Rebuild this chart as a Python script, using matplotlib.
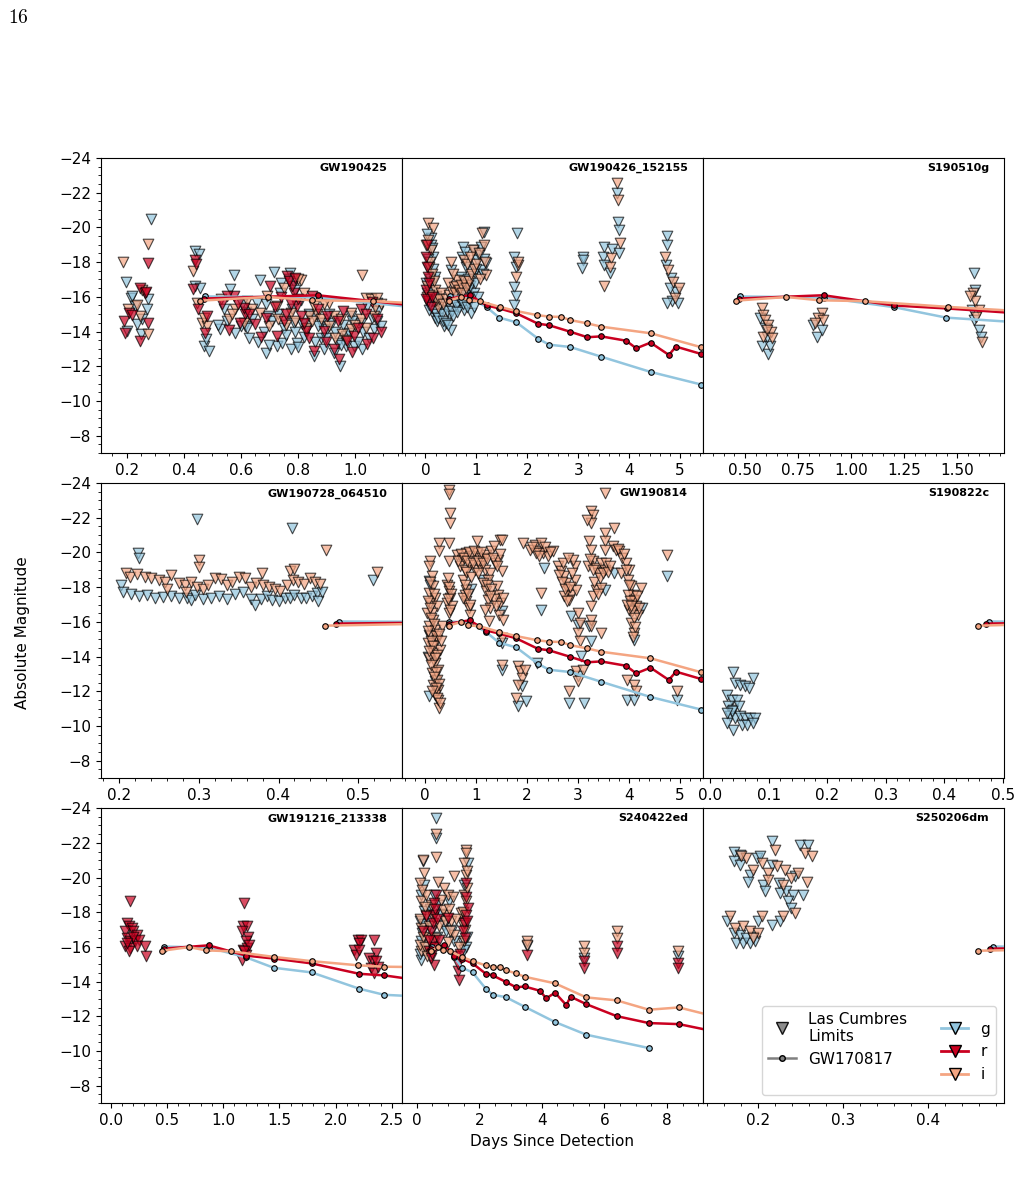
import matplotlib.pyplot as plt
from matplotlib.lines import Line2D
from matplotlib.ticker import MultipleLocator, AutoMinorLocator

plt.rcParams['font.family'] = ['DejaVu Sans']
plt.rcParams['font.size'] = 11
plt.rcParams['mathtext.fontset'] = 'cm'

band_colors = {'g': '#92c5de', 'r': '#ca0020', 'i': '#f4a582'}

# GW170817 reference light curves (days, absolute mag)
kn_g_t = [0.476, 0.874, 1.203, 1.448, 1.786, 2.21, 2.43, 2.84, 3.45, 4.42, 5.42, 7.42]
kn_g_mag = [-16.02, -15.96, -15.40, -14.80, -14.53, -13.59, -13.24, -13.11, -12.55, -11.67, -10.94, -10.17]
kn_r_t = [0.472, 0.87, 1.203, 1.45, 1.786, 2.21, 2.43, 2.84, 3.18, 3.45, 3.94, 4.14, 4.42,
          4.78, 4.92, 5.42, 6.39, 7.42, 8.38, 10.4]
kn_r_mag = [-15.9, -16.09, -15.5, -15.33, -15.05, -14.45, -14.36, -13.99, -13.67, -13.72, -13.47,
            -13.03, -13.36, -12.65, -13.13, -12.70, -12.01, -11.61, -11.55, -10.8]
kn_i_t = [0.458, 0.695, 0.849, 1.065, 1.456, 1.786, 2.20, 2.43, 2.67, 2.84, 3.18, 3.45, 4.42,
          5.42, 6.39, 7.42, 8.38, 10.4]
kn_i_mag = [-15.78, -15.99, -15.8, -15.75, -15.42, -15.18, -14.94, -14.86, -14.84, -14.66, -14.47,
            -14.28, -13.9, -13.09, -12.92, -12.38, -12.51, -11.6]

# Las Cumbres limits, (days, mag) per event and band
gw190425_g = [(0.284, -20.47), (0.196, -16.86), (0.214, -15.95), (0.229, -15.47), (0.274, -15.86),
              (0.273, -15.28), (0.253, -14.7), (0.2, -14.03), (0.25, -13.84), (0.237, -14.41),
              (0.218, -16.05), (0.438, -18.65), (0.452, -18.45), (0.44, -16.63), (0.458, -16.53),
              (0.47, -13.16), (0.487, -12.87), (0.478, -13.55), (0.528, -14.12), (0.563, -16.43),
              (0.575, -17.26), (0.604, -15.57), (0.616, -14.32), (0.669, -16.99), (0.687, -12.78),
              (0.716, -17.43), (0.728, -13.16), (0.745, -13.35), (0.772, -17.36), (0.775, -12.97),
              (0.786, -16.82), (0.798, -13.35), (0.815, -14.41), (0.833, -14.12), (0.857, -12.58),
              (0.88, -13.64), (0.903, -14.12), (0.927, -12.78), (0.948, -12.0), (0.968, -13.74),
              (0.985, -14.9), (0.997, -13.16), (1.026, -12.97), (1.044, -15.47), (1.068, -14.12),
              (1.079, -15.66), (0.739, -16.24), (0.696, -14.89), (0.64, -14.7), (0.54, -15.28),
              (0.657, -15.66), (0.857, -14.9), (0.921, -14.51), (1.02, -14.51), (1.079, -14.6),
              (0.622, -14.2), (0.786, -14.5), (0.88, -14.5), (0.939, -13.35), (0.968, -13.16),
              (0.52, -14.4), (0.55, -14.6), (0.58, -13.9), (0.60, -14.3), (0.63, -13.6),
              (0.66, -13.4), (0.68, -14.0), (0.70, -13.2), (0.71, -14.6), (0.73, -15.0),
              (0.75, -14.2), (0.76, -13.8), (0.78, -15.3), (0.79, -14.0), (0.80, -13.1),
              (0.82, -13.7), (0.84, -15.0), (0.86, -13.4), (0.87, -14.3), (0.89, -13.0),
              (0.90, -13.6), (0.91, -15.0), (0.93, -14.0), (0.95, -13.2), (0.96, -14.4),
              (0.98, -13.9), (0.99, -14.6), (1.01, -13.4), (1.03, -14.0), (1.05, -13.6),
              (1.06, -14.8), (1.08, -15.2), (1.09, -14.3), (0.74, -16.8), (0.77, -17.0),
              (0.79, -16.4), (0.81, -15.8), (0.69, -15.6), (0.62, -15.1)]
gw190425_r = [(0.276, -17.97), (0.247, -16.53), (0.264, -16.24), (0.192, -14.6), (0.194, -13.93),
              (0.208, -15.09), (0.217, -14.95), (0.247, -13.45), (0.276, -14.5), (0.268, -16.3),
              (0.44, -18.11), (0.444, -17.88), (0.449, -15.28), (0.476, -13.93), (0.481, -14.9),
              (0.434, -16.43), (0.575, -16.05), (0.616, -14.99), (0.651, -14.41), (0.704, -16.63),
              (0.728, -13.74), (0.751, -14.6), (0.763, -17.2), (0.786, -16.24), (0.798, -15.47),
              (0.81, -14.9), (0.827, -14.03), (0.857, -12.87), (0.892, -14.03), (0.927, -12.97),
              (0.944, -12.39), (0.974, -13.45), (0.997, -13.74), (1.02, -15.28), (1.044, -13.26),
              (1.062, -13.64), (1.079, -14.7), (0.534, -15.57), (0.552, -16.05), (0.61, -15.37),
              (0.599, -14.51), (0.775, -15.57), (0.851, -16.05), (0.903, -14.9),
              (0.56, -14.1), (0.59, -15.6), (0.63, -15.0), (0.67, -13.7), (0.69, -14.8),
              (0.72, -15.4), (0.74, -16.0), (0.76, -15.0), (0.78, -16.6), (0.80, -15.9),
              (0.82, -14.5), (0.84, -13.6), (0.87, -15.3), (0.90, -13.4), (0.94, -14.6),
              (0.96, -15.2), (0.99, -12.8), (1.01, -14.2), (1.04, -15.0), (1.06, -15.7),
              (1.09, -14.0), (0.77, -16.9), (0.79, -17.1)]
gw190425_i = [(0.188, -18.0), (0.276, -19.07), (0.276, -13.84), (0.247, -14.9), (0.206, -15.28),
              (0.253, -16.4), (0.235, -15.5), (0.432, -17.49), (0.446, -15.66), (0.464, -14.51),
              (0.481, -14.32), (0.472, -14.8), (0.558, -14.7), (0.581, -15.28), (0.669, -15.09),
              (0.692, -16.05), (0.775, -15.09), (0.81, -16.99), (0.839, -14.9), (0.868, -14.99),
              (0.909, -15.66), (0.927, -14.9), (0.956, -13.83), (0.985, -14.12), (1.026, -17.24),
              (1.038, -15.95), (1.056, -15.86), (1.079, -15.95), (0.985, -15.09), (0.857, -15.47),
              (0.728, -15.47), (0.622, -15.76), (0.892, -15.57), (1.068, -14.89),
              (0.53, -15.9), (0.57, -15.0), (0.61, -14.5), (0.64, -15.3), (0.70, -14.3),
              (0.73, -14.7), (0.76, -14.4), (0.79, -14.6), (0.83, -14.2), (0.85, -14.6),
              (0.88, -14.7), (0.91, -14.3), (0.93, -13.6), (0.95, -14.7), (0.97, -13.5),
              (1.00, -14.4), (1.02, -14.7), (1.04, -14.2), (1.07, -15.4), (1.09, -15.6),
              (0.75, -16.5), (0.80, -17.0), (0.82, -16.2)]

gw190426_g = [(0.11, -19.37), (0.14, -18.32), (0.05, -17.65), (0.18, -17.17), (0.08, -16.59),
              (0.14, -15.63), (0.18, -14.77), (0.37, -14.29), (0.5, -14.1), (0.31, -15.25),
              (0.44, -15.63), (0.47, -14.96), (0.57, -15.73), (0.66, -15.44), (0.73, -18.89),
              (0.76, -15.25), (0.83, -15.63), (0.89, -15.06), (0.96, -18.7), (1.02, -18.13),
              (1.15, -19.76), (1.19, -17.94), (0.86, -16.4), (0.7, -17.17), (0.96, -16.2),
              (0.21, -16.02), (0.08, -15.25), (0.5, -17.55), (0.8, -17.74), (1.09, -17.55),
              (0.02, -16.8), (0.04, -16.2), (0.06, -15.8), (0.09, -17.0), (0.12, -16.3),
              (0.15, -17.6), (0.16, -15.2), (0.2, -15.0), (0.22, -14.6), (0.25, -14.8),
              (0.28, -15.6), (0.33, -15.0), (0.35, -14.6), (0.4, -14.5), (0.42, -15.2),
              (0.45, -14.4), (0.53, -15.2), (0.55, -14.9), (0.6, -15.5), (0.62, -15.1),
              (0.64, -16.0), (0.68, -15.8), (0.71, -16.5), (0.74, -15.6), (0.78, -16.1),
              (0.81, -15.4), (0.85, -15.9), (0.88, -16.6), (0.91, -16.0), (0.93, -17.2),
              (0.95, -15.4), (0.98, -16.8), (1.0, -17.6), (1.03, -16.0), (1.06, -18.4),
              (1.1, -18.9), (1.13, -17.3), (1.16, -18.2), (0.72, -18.3), (0.78, -18.6),
              (0.84, -17.0), (0.1, -19.0), (0.06, -18.2), (0.13, -18.8), (0.03, -19.6),
              (0.1, -16.0), (0.07, -15.5), (0.16, -16.0),
              (1.79, -19.7), (1.74, -18.32), (1.77, -17.74), (1.74, -16.59), (1.77, -16.02),
              (1.74, -15.54), (3.09, -18.32), (3.09, -18.1), (3.08, -17.65), (3.76, -21.97),
              (3.79, -20.33), (3.81, -19.85), (3.51, -18.86), (3.67, -18.74), (3.49, -18.32),
              (3.5, -17.84), (3.63, -17.36), (3.81, -18.51), (4.74, -19.51), (4.74, -18.99),
              (4.73, -17.84), (4.82, -17.07), (4.93, -16.3), (4.84, -15.73), (4.74, -15.63),
              (4.95, -15.63), (4.8, -16.5)]
gw190426_r = [(0.01, -18.32), (0.03, -17.74), (0.01, -16.4), (0.05, -15.73), (0.06, -17.17),
              (0.1, -15.44), (0.04, -19.0), (0.02, -15.9), (0.08, -16.8), (0.12, -16.0)]
gw190426_i = [(0.05, -20.28), (0.14, -19.95), (0.11, -18.7), (0.08, -17.74), (0.18, -16.4),
              (0.03, -16.0), (0.24, -15.44), (0.31, -16.2), (0.5, -18.03), (0.44, -16.78),
              (0.63, -16.97), (0.76, -18.13), (0.93, -18.7), (1.12, -19.66), (1.15, -18.99),
              (1.19, -17.26), (0.57, -16.59), (0.83, -16.69),
              (0.02, -19.0), (0.06, -19.3), (0.09, -18.0), (0.12, -17.3), (0.16, -16.9),
              (0.04, -16.6), (0.07, -16.1), (0.2, -15.8), (0.26, -15.9), (0.35, -15.6),
              (0.4, -15.9), (0.46, -16.1), (0.52, -16.3), (0.58, -16.2), (0.6, -16.6),
              (0.65, -16.4), (0.69, -16.7), (0.72, -16.2), (0.75, -16.9), (0.79, -16.5),
              (0.86, -16.9), (0.9, -17.3), (0.95, -17.6), (1.0, -17.9), (1.05, -18.5),
              (1.08, -17.0), (1.17, -18.0), (0.55, -17.3), (0.82, -17.9), (0.88, -18.3),
              (1.81, -17.84), (1.77, -17.17),
              (1.81, -18.03), (3.76, -22.54), (3.79, -21.58), (3.82, -19.09), (3.64, -18.22),
              (3.62, -17.74), (3.51, -16.63), (4.71, -18.32), (4.77, -17.55), (4.87, -16.88),
              (4.9, -15.92), (4.97, -16.5)]

s190510g_g = [(0.571, -14.77), (0.594, -14.19), (0.579, -13.14), (0.61, -12.71), (0.618, -13.14),
              (0.602, -13.71), (0.822, -14.38), (0.838, -13.71), (0.862, -14.1), (1.58, -17.36),
              (1.585, -16.4), (1.569, -15.25), (1.577, -14.67), (1.6, -14.1), (1.611, -13.71)]
s190510g_i = [(0.579, -15.34), (0.583, -14.96), (0.594, -14.67), (0.61, -14.38), (0.621, -14.0),
              (0.586, -13.71), (0.602, -14.1), (0.626, -13.62), (0.862, -15.06), (0.846, -14.77),
              (0.869, -14.67), (0.83, -14.48), (1.574, -16.21), (1.585, -15.73), (1.6, -15.25),
              (1.59, -14.86), (1.616, -13.42), (1.561, -16.02)]

gw190728_g = [(0.202, -18.14), (0.205, -17.7), (0.215, -17.6), (0.2235, -19.97), (0.225, -19.68),
              (0.225, -17.5), (0.235, -17.55), (0.245, -17.4), (0.255, -17.45), (0.265, -17.5),
              (0.275, -17.35), (0.285, -17.4), (0.29, -17.25), (0.2975, -21.93), (0.295, -17.55),
              (0.305, -17.3), (0.315, -17.4), (0.325, -17.5), (0.335, -17.3), (0.345, -17.6),
              (0.355, -17.75), (0.365, -17.3), (0.37, -17.0), (0.378, -17.3), (0.385, -17.5),
              (0.392, -17.25), (0.4, -17.2), (0.408, -17.35), (0.415, -17.4), (0.417, -21.41),
              (0.42, -17.55), (0.428, -17.35), (0.435, -17.4), (0.442, -17.5), (0.448, -17.65),
              (0.45, -17.2), (0.455, -17.7), (0.519, -18.43)]
gw190728_i = [(0.208, -18.8), (0.213, -18.6), (0.222, -18.75), (0.232, -18.6), (0.24, -18.5),
              (0.25, -18.4), (0.258, -18.3), (0.265, -18.7), (0.275, -18.25), (0.282, -18.1),
              (0.29, -18.3), (0.298, -18.0), (0.2996, -19.58), (0.3, -19.14), (0.305, -17.9),
              (0.312, -18.1), (0.32, -18.5), (0.328, -18.45), (0.335, -18.1), (0.342, -18.3),
              (0.35, -18.6), (0.358, -18.5), (0.366, -18.0), (0.372, -18.25), (0.379, -18.81),
              (0.38, -18.1), (0.388, -18.0), (0.395, -17.9), (0.402, -17.8), (0.41, -18.1),
              (0.414, -18.91), (0.418, -18.4), (0.42, -19.04), (0.425, -18.3), (0.432, -18.2),
              (0.44, -18.5), (0.446, -18.3), (0.452, -18.2), (0.459, -20.12), (0.524, -18.85),
              (0.284, -17.7), (0.26, -17.9)]

gw190814_g = [(0.07, -18.33), (0.1, -18.14), (0.07, -15.26), (0.08, -11.75), (1.11, -18.43),
              (1.5, -16.6), (1.5, -14.78), (1.5, -13.24), (2.34, -19.1), (2.27, -16.7),
              (2.86, -16.32), (2.99, -15.84), (3.11, -11.32), (2.83, -11.32), (1.82, -11.13),
              (1.97, -11.42), (1.89, -12.28), (3.26, -14.88), (3.71, -18.81), (3.52, -17.85),
              (4.75, -18.62), (4.95, -11.51), (3.96, -11.51), (4.1, -11.51), (4.26, -16.8),
              (4.1, -14.97), (3.06, -14.01), (3.22, -15.74), (0.12, -16.9), (0.05, -14.0),
              (0.2, -12.6), (0.9, -17.9), (2.2, -13.6), (3.0, -12.9)]
gw190814_i = [(0.1, -19.49), (0.07, -19.2), (0.13, -18.62), (0.16, -18.05), (0.07, -17.66),
              (0.2, -17.37), (0.1, -17.08), (0.23, -16.89), (0.13, -16.51), (0.16, -16.12),
              (0.07, -15.74), (0.2, -15.55), (0.1, -15.16), (0.23, -14.97), (0.13, -14.59),
              (0.16, -14.2), (0.07, -13.92), (0.2, -13.63), (0.26, -13.24), (0.13, -13.05),
              (0.23, -12.67), (0.16, -12.38), (0.26, -12.09), (0.2, -11.8), (0.27, -11.03),
              (0.25, -11.51), (0.05, -14.78), (0.29, -14.4), (0.33, -15.74), (0.03, -16.51),
              (0.05, -17.2), (0.09, -16.8), (0.12, -16.2), (0.18, -15.9), (0.22, -15.2),
              (0.11, -14.9), (0.15, -14.6), (0.24, -14.1), (0.08, -14.3), (0.19, -13.9),
              (0.12, -13.5), (0.22, -13.1), (0.17, -12.8), (0.28, -12.4), (0.21, -12.2),
              (0.24, -11.6), (0.29, -11.3), (0.14, -12.0), (0.06, -15.5), (0.27, -15.3),
              (0.31, -14.9), (0.18, -17.6), (0.09, -18.3),
              (0.46, -23.62), (0.46, -23.39), (0.48, -22.27), (0.48, -21.7), (0.46, -20.54),
              (0.27, -20.54), (0.27, -20.06), (0.46, -19.49), (0.42, -18.14), (0.46, -17.76),
              (0.49, -17.37), (0.42, -17.08), (0.52, -16.89), (0.46, -16.51),
              (0.44, -18.5), (0.47, -18.0), (0.5, -17.6), (0.44, -17.3), (0.48, -16.7),
              (0.62, -19.87), (0.72, -19.58), (0.81, -19.97), (0.91, -19.77), (1.01, -20.64),
              (1.01, -19.97), (1.11, -19.68), (1.2, -19.87), (1.3, -20.06), (1.37, -19.39),
              (1.46, -20.73), (1.43, -19.58), (1.5, -18.91), (0.68, -19.2), (0.78, -19.0),
              (0.88, -19.29), (0.98, -19.0), (1.07, -19.2), (1.17, -19.0), (1.27, -18.81),
              (0.75, -18.43), (1.24, -18.43), (0.78, -17.56), (0.81, -17.18), (0.85, -16.8),
              (0.88, -16.41), (0.75, -17.37), (0.81, -17.85), (1.14, -18.24), (1.2, -17.76),
              (1.24, -17.28), (1.27, -16.8), (1.17, -16.7), (1.4, -18.05), (1.43, -17.56),
              (1.46, -17.08), (1.53, -17.37), (1.5, -15.07), (1.5, -13.53), (1.25, -16.03),
              (0.65, -19.5), (0.7, -19.9), (0.76, -19.7), (0.83, -19.5), (0.86, -20.0),
              (0.93, -19.4), (0.96, -20.1), (1.04, -19.5), (1.09, -20.0), (1.14, -19.4),
              (1.22, -19.6), (1.33, -19.7), (1.36, -20.4), (1.4, -19.2), (1.46, -19.9),
              (0.8, -18.9), (0.9, -18.6), (1.03, -18.8), (0.78, -18.1), (0.84, -17.6),
              (0.87, -17.0), (1.22, -18.1), (1.3, -17.9), (1.35, -17.3), (1.45, -16.4),
              (1.52, -16.1), (1.38, -16.9), (1.28, -17.5),
              (1.82, -13.44), (1.86, -13.15), (1.89, -12.76), (1.82, -12.38), (1.95, -13.24),
              (1.79, -11.61), (1.92, -20.54), (2.05, -20.16), (2.15, -20.45), (2.21, -20.06),
              (2.28, -20.54), (2.31, -19.97), (2.41, -19.77), (2.51, -20.06), (2.27, -17.66),
              (2.18, -19.97), (2.1, -20.3), (2.23, -19.8), (2.35, -20.3), (2.45, -20.0),
              (2.6, -19.2), (2.67, -18.91), (2.73, -18.62), (2.77, -18.24),
              (2.8, -17.85), (2.86, -17.56), (2.83, -17.28), (2.93, -19.2), (2.96, -17.85),
              (2.7, -19.39), (2.9, -19.58), (2.73, -17.47), (2.8, -19.68), (2.93, -18.43),
              (2.62, -18.7), (2.69, -18.3), (2.75, -17.9), (2.84, -18.0), (2.88, -18.8),
              (2.78, -17.2),
              (2.99, -16.51), (3.03, -15.93), (2.99, -15.36), (3.03, -14.88), (2.96, -13.15),
              (2.99, -12.57), (2.83, -12.0), (3.09, -13.24), (3.26, -22.37), (3.29, -22.18),
              (3.26, -21.7), (3.22, -20.64), (3.26, -20.16), (3.29, -19.49), (3.19, -19.2),
              (3.35, -19.1), (3.39, -18.81), (3.45, -19.39), (3.52, -19.0), (3.35, -17.85),
              (3.29, -17.47), (3.45, -17.95), (3.26, -16.89), (3.26, -16.12), (3.26, -15.74),
              (3.52, -21.12), (3.53, -20.64), (3.52, -20.16), (3.45, -15.36), (3.52, -23.42),
              (3.18, -21.9), (3.23, -19.6), (3.3, -19.0), (3.31, -18.3), (3.39, -17.6),
              (3.42, -18.5), (3.48, -18.8), (3.55, -19.4), (3.58, -18.9), (3.62, -19.2),
              (3.71, -21.41), (3.68, -20.35), (3.74, -20.16), (3.81, -20.06), (3.87, -19.68),
              (3.94, -19.39), (3.84, -18.81), (4.0, -19.0), (3.97, -18.43), (4.04, -18.05),
              (4.07, -17.56), (4.1, -17.18), (4.14, -16.89), (4.0, -16.7), (4.17, -16.41),
              (4.04, -15.93), (4.1, -15.36), (4.23, -17.95), (3.97, -17.56), (3.96, -12.67),
              (4.1, -12.38), (4.14, -12.0), (4.1, -17.28), (3.78, -20.2), (3.9, -19.9),
              (3.93, -19.0), (3.99, -18.1), (4.02, -17.2), (4.06, -16.6), (4.09, -16.2),
              (4.12, -15.7), (4.15, -17.5), (4.2, -16.8), (3.95, -17.0), (4.03, -16.9),
              (4.08, -15.1), (4.75, -19.87), (4.95, -12.0), (1.5, -20.73)]

s190822c_g = [(0.04, -13.09), (0.074, -12.76), (0.043, -12.47), (0.051, -12.38), (0.06, -12.28),
              (0.066, -12.19), (0.029, -11.8), (0.037, -11.51), (0.046, -11.51), (0.031, -11.13),
              (0.04, -10.94), (0.034, -10.55), (0.043, -10.46), (0.051, -10.55), (0.06, -10.46),
              (0.069, -10.46), (0.077, -10.46), (0.04, -9.79), (0.054, -10.07), (0.063, -10.07),
              (0.074, -10.17), (0.029, -10.17), (0.049, -11.13), (0.037, -10.84), (0.029, -10.75)]

gw191216_r = [(0.173, -18.62), (0.143, -17.37), (0.158, -17.18), (0.188, -17.08), (0.128, -16.89),
              (0.202, -16.89), (0.232, -16.7), (0.143, -16.51), (0.173, -16.32), (0.217, -16.32),
              (0.247, -16.41), (0.128, -16.03), (0.173, -15.93), (0.232, -16.03), (0.158, -15.74),
              (0.307, -16.03), (0.315, -15.45), (0.202, -16.6), (0.143, -16.2),
              (1.185, -18.53), (1.179, -17.18), (1.214, -17.18), (1.17, -16.89), (1.223, -16.6),
              (1.199, -16.32), (1.176, -15.84), (1.214, -15.93), (1.164, -15.26), (1.199, -15.55),
              (1.229, -16.12), (1.185, -15.74), (2.196, -16.41), (2.226, -16.41), (2.211, -16.22),
              (2.167, -15.84), (2.182, -15.55), (2.211, -15.84), (2.345, -16.41), (2.36, -15.64),
              (2.3, -15.36), (2.33, -15.16), (2.315, -14.78), (2.345, -14.49), (2.375, -14.87),
              (2.36, -15.16)]

s240422ed_g = [(0.62, -23.42), (0.62, -22.27), (0.19, -20.93), (0.24, -19.58), (0.14, -19.0),
               (0.24, -18.05), (0.14, -16.32), (0.14, -15.26), (1.63, -20.83), (1.52, -19.58),
               (1.04, -18.62), (0.88, -17.28), (1.47, -16.22), (0.56, -19.0), (0.72, -18.43),
               (1.2, -16.32), (0.1, -17.5), (0.18, -16.8), (0.22, -17.3), (0.3, -16.0),
               (0.12, -15.6), (0.36, -17.6), (0.43, -18.2), (0.5, -17.0), (0.66, -16.6),
               (0.78, -17.9), (0.93, -16.9), (1.12, -17.0), (1.55, -17.4), (1.6, -16.6),
               (1.57, -16.0), (1.5, -15.8), (3.51, -16.03), (5.35, -15.36), (8.35, -15.45)]
s240422ed_r = [(0.62, -19.0), (0.56, -18.53), (0.56, -17.85), (0.46, -16.89), (0.51, -16.32),
               (0.4, -15.74), (0.56, -14.97), (0.46, -15.36), (1.57, -19.68), (1.63, -18.24),
               (1.57, -17.85), (1.52, -17.37), (1.47, -16.89), (1.36, -15.16), (1.31, -14.59),
               (1.36, -14.11), (1.25, -15.45), (0.99, -17.66), (0.19, -16.89),
               (0.52, -17.4), (0.6, -18.2), (0.66, -17.6), (0.48, -15.6), (0.55, -16.0),
               (0.38, -16.4), (0.3, -17.8), (1.58, -18.9), (1.62, -17.5), (1.55, -16.5),
               (1.4, -15.6), (1.33, -15.0), (0.7, -16.4), (3.51, -15.55),
               (5.35, -15.16), (5.35, -14.78), (6.39, -16.03), (6.39, -15.64), (8.35, -15.07),
               (8.35, -14.78)]
s240422ed_i = [(0.62, -22.5), (0.62, -21.2), (0.19, -21.02), (0.22, -20.25), (0.88, -19.39),
               (1.2, -20.06), (1.57, -21.6), (1.57, -21.4), (1.52, -20.83), (1.57, -20.16),
               (1.52, -19.0), (0.14, -18.62), (0.3, -17.85), (0.14, -17.08), (0.14, -15.74),
               (0.35, -16.51), (0.72, -17.18), (0.99, -19.0), (1.1, -17.47), (0.94, -17.85),
               (1.2, -16.7), (1.57, -18.62), (1.47, -17.28), (0.67, -19.77), (0.3, -19.0),
               (0.46, -18.43), (0.09, -16.12), (0.51, -15.93), (1.52, -16.32), (1.41, -17.95),
               (0.1, -19.7), (0.17, -19.3), (0.25, -18.3), (0.12, -17.6), (0.2, -16.6),
               (0.27, -16.0), (0.33, -15.5), (0.4, -17.2), (0.52, -17.7), (0.58, -16.5),
               (0.77, -18.7), (0.83, -18.1), (0.9, -17.5), (1.02, -18.2), (1.05, -16.9),
               (1.15, -18.9), (1.25, -17.6), (1.48, -18.0), (1.55, -17.0), (1.6, -19.4),
               (1.62, -20.4), (1.35, -16.0), (1.0, -16.3),
               (3.51, -16.32), (3.51, -16.12), (5.35, -16.03), (5.35, -15.64), (6.39, -16.93),
               (6.39, -16.51), (8.35, -15.74)]

s250206dm_g = [(0.2157, -22.08), (0.249, -21.89), (0.259, -21.89), (0.171, -21.5), (0.178, -21.31),
               (0.171, -20.93), (0.178, -20.73), (0.198, -21.12), (0.202, -21.22), (0.19, -20.16),
               (0.188, -19.77), (0.206, -19.58), (0.208, -19.2), (0.216, -20.73), (0.224, -19.68),
               (0.225, -19.1), (0.233, -19.2), (0.243, -20.06), (0.241, -19.0), (0.253, -19.0),
               (0.235, -18.62), (0.239, -18.24), (0.163, -17.47), (0.171, -16.8), (0.174, -16.22),
               (0.182, -16.22), (0.19, -16.22), (0.196, -16.32), (0.2, -17.47), (0.216, -17.28),
               (0.225, -17.47), (0.178, -16.7), (0.186, -16.51), (0.194, -16.6)]
s250206dm_i = [(0.22, -21.6), (0.255, -21.41), (0.263, -21.22), (0.186, -21.12), (0.204, -20.83),
               (0.194, -20.45), (0.212, -20.25), (0.222, -20.64), (0.231, -20.45), (0.239, -19.97),
               (0.247, -20.25), (0.257, -19.77), (0.212, -19.87), (0.229, -19.58), (0.243, -17.95),
               (0.167, -17.76), (0.204, -17.76), (0.229, -17.76), (0.173, -17.08), (0.182, -17.18),
               (0.19, -16.89), (0.2, -16.8), (0.194, -16.51), (0.18, -21.22)]

event_names = ['GW190425', 'GW190426_152155', 'S190510g',
               'GW190728_064510', 'GW190814', 'S190822c',
               'GW191216_213338', 'S240422ed', 'S250206dm']
event_xlims = [(0.11, 1.165), (-0.46, 5.45), (0.302, 1.72),
               (0.177, 0.555), (-0.455, 5.45), (-0.012, 0.502),
               (-0.087, 2.59), (-0.47, 9.15), (0.135, 0.489)]
event_xstep = [0.2, 1, 0.25, 0.1, 1, 0.1, 0.5, 2, 0.1]

limits = {
    'GW190425': {'g': gw190425_g, 'i': gw190425_i, 'r': gw190425_r},
    'GW190426_152155': {'g': gw190426_g, 'i': gw190426_i, 'r': gw190426_r},
    'S190510g': {'g': s190510g_g, 'i': s190510g_i},
    'GW190728_064510': {'g': gw190728_g, 'i': gw190728_i},
    'GW190814': {'g': gw190814_g, 'i': gw190814_i},
    'S190822c': {'g': s190822c_g},
    'GW191216_213338': {'r': gw191216_r},
    'S240422ed': {'g': s240422ed_g, 'i': s240422ed_i, 'r': s240422ed_r},
    'S250206dm': {'g': s250206dm_g, 'i': s250206dm_i},
}
kilonova = {'g': (kn_g_t, kn_g_mag), 'r': (kn_r_t, kn_r_mag), 'i': (kn_i_t, kn_i_mag)}

fig = plt.figure(figsize=(10.2, 11.82), dpi=100)

ax_w = 0.2951
ax_h = 0.2495
col_left = [0.099, 0.099 + ax_w, 0.099 + 2 * ax_w]
row_bottom = [0.6168, 0.3418, 0.0668]

axes = []
for k, name in enumerate(event_names):
    row, col = k // 3, k % 3
    ax = fig.add_axes([col_left[col], row_bottom[row], ax_w, ax_h])
    axes.append(ax)

    for band in ['g', 'i', 'r']:
        if band in limits[name]:
            pts = limits[name][band]
            ax.scatter([p[0] for p in pts], [p[1] for p in pts], marker='v', s=58,
                       color=band_colors[band], edgecolors='k', linewidths=0.8,
                       alpha=0.7, zorder=2)

    for band in ['g', 'r', 'i']:
        t, m = kilonova[band]
        ax.plot(t, m, color=band_colors[band], lw=1.8, marker='o', ms=4,
                mfc=band_colors[band], mec='k', mew=0.8, zorder=3)

    ax.set_xlim(event_xlims[k])
    ax.set_ylim(-7, -24)
    ax.xaxis.set_major_locator(MultipleLocator(event_xstep[k]))
    ax.xaxis.set_minor_locator(AutoMinorLocator())
    ax.set_yticks(range(-24, -7, 2))
    ax.yaxis.set_minor_locator(AutoMinorLocator())
    if col != 0:
        ax.tick_params(axis='y', which='both', left=False, labelleft=False)
    ax.text(0.95, 0.965, name, transform=ax.transAxes, ha='right', va='center',
            fontsize=8, fontweight='bold')

handles = [
    Line2D([], [], ls='none', marker='v', ms=8, color='grey', mec='k', alpha=0.9),
    Line2D([], [], color='grey', lw=1.8, marker='o', ms=4, mec='k'),
    Line2D([], [], ls='none', marker=None),
    Line2D([], [], color=band_colors['g'], lw=2, marker='v', ms=8, mec='k'),
    Line2D([], [], color=band_colors['r'], lw=2, marker='v', ms=8, mec='k'),
    Line2D([], [], color=band_colors['i'], lw=2, marker='v', ms=8, mec='k'),
]
labels = ['Las Cumbres\nLimits', 'GW170817', '', 'g', 'r', 'i']
axes[8].legend(handles, labels, ncol=2, loc='lower right', fontsize=11,
               columnspacing=2.2, handlelength=1.8)

fig.text(0.0225, 0.465, 'Absolute Magnitude', rotation=90, ha='center', va='center')
fig.text(0.541, 0.034, 'Days Since Detection', ha='center', va='center')
fig.text(0.008, 0.993, r'$16$', ha='left', va='top', fontsize=14)

fig.savefig('out.png', dpi=100)
